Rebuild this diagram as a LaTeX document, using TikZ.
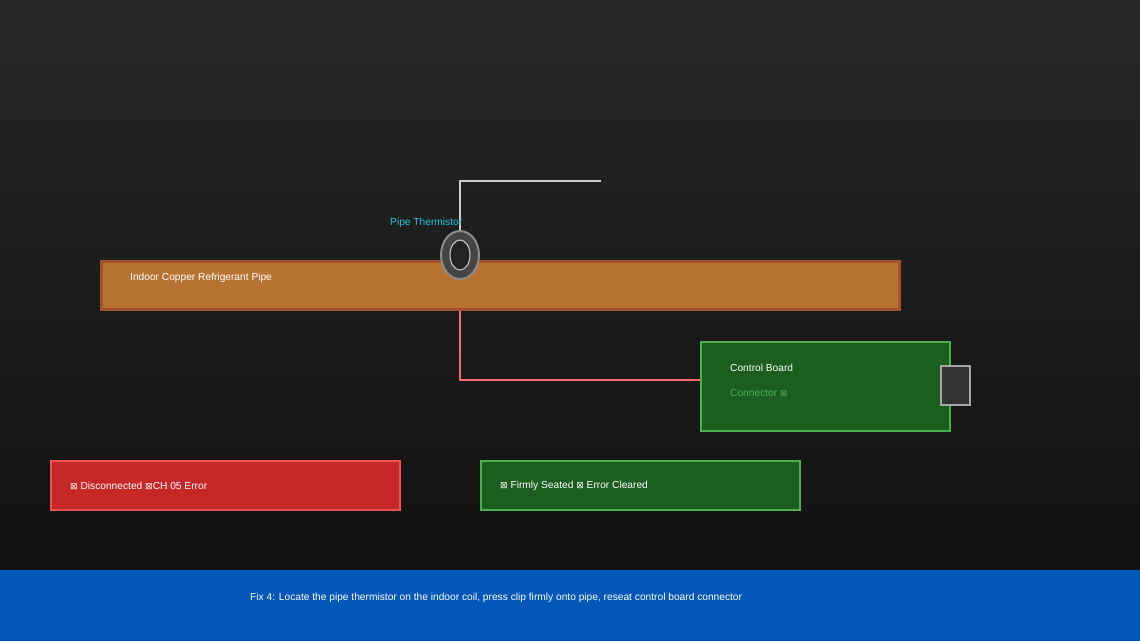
\documentclass[tikz,border=0pt]{standalone}
\usepackage{fontspec}
\setmainfont{Liberation Sans}
\newfontfamily\symfont{DejaVu Sans}
\usetikzlibrary{shapes.geometric}
\definecolor{bgtop}{HTML}{272727}
\definecolor{bgbot}{HTML}{111111}
\definecolor{copper}{HTML}{B87333}
\definecolor{sienna}{HTML}{A0522D}
\definecolor{boardfill}{HTML}{1B5E20}
\definecolor{boardline}{HTML}{4CAF50}
\definecolor{errfill}{HTML}{C62828}
\definecolor{errline}{HTML}{EF5350}
\definecolor{barblue}{HTML}{0057B8}
\definecolor{cyanlbl}{HTML}{26C6DA}
\definecolor{redwire}{HTML}{FF6B6B}
\definecolor{wirewhite}{HTML}{CCCCCC}
\newcommand{\tofu}{{\symfont\fontsize{9}{10}\selectfont ⊠}}
\tikzset{
  lbl/.style={text=white, font=\fontsize{10.2}{12}\selectfont, anchor=west, inner sep=0pt},
  panel/.style={draw=boardline, line width=2pt, fill=boardfill, anchor=north west, inner sep=0pt},
}
\begin{document}
\begin{tikzpicture}[x=1pt,y=-1pt]
\useasboundingbox (0,0) rectangle (1140,641);
\shade[top color=bgtop, bottom color=bgbot] (0,0) rectangle (1140,570);
\fill[bgbot] (0,560) rectangle (1140,570);
% bottom bar
\node[fill=barblue, anchor=north west, minimum width=1140pt, minimum height=71pt, inner sep=0pt, outer sep=0pt] (bar) at (0,570) {};
\node[lbl] (fix) at (250,597.5) {Fix 4: Locate the pipe thermistor on the indoor coil, press clip firmly onto pipe, reseat control board connector};
% pipe
\node[draw=sienna, line width=3pt, fill=copper, anchor=north west, minimum width=798pt, minimum height=48pt, inner sep=0pt] (pipe) at (99.5,259.5) {};
\node[lbl] (pipelbl) at (130,277.5) {Indoor Copper Refrigerant Pipe};
% thermistor
\node[ellipse, draw=gray!90, line width=2pt, fill=black!73, minimum width=38pt, minimum height=48pt, inner sep=0pt] (therm) at (460,255) {};
\node[ellipse, draw=wirewhite, line width=1pt, fill=black!86, minimum width=20pt, minimum height=30pt, inner sep=0pt] (thermin) at (460,255) {};
\coordinate (wcorner) at (460,181);
\coordinate (wend) at (601,181);
\draw[wirewhite, line width=2pt] (therm.north) -- (wcorner) -- (wend);
\node[lbl, text=cyanlbl] (thermlbl) at (390,222.5) {Pipe Thermistor};
% control board
\node[panel, minimum width=249pt, minimum height=89pt] (board) at (700,341) {};
\node[lbl] (boardlbl) at (730,367.5) {Control Board};
\node[lbl, text=boardline] (connlbl) at (730,392.5) {Connector \tofu};
\node[draw=black!35, line width=2pt, fill=black!80, anchor=north west, minimum width=29pt, minimum height=39pt, inner sep=0pt] (conn) at (940,365) {};
% red wire
\coordinate (boardin) at (board.north west |- 0,380);
\draw[redwire, line width=2.5pt] (pipe.south -| therm) -- (therm |- boardin) -- (boardin);
% status boxes
\node[draw=errline, line width=2pt, fill=errfill, anchor=north west, minimum width=349pt, minimum height=49pt, inner sep=0pt] (err) at (50,460) {};
\node[lbl] (errlbl) at (70,485.5) {\tofu\ Disconnected \tofu CH 05 Error};
\node[panel, minimum width=319pt, minimum height=49pt] (ok) at (480,460) {};
\node[lbl] (oklbl) at (500,485.5) {\tofu\ Firmly Seated \tofu\ Error Cleared};
\end{tikzpicture}
\end{document}
